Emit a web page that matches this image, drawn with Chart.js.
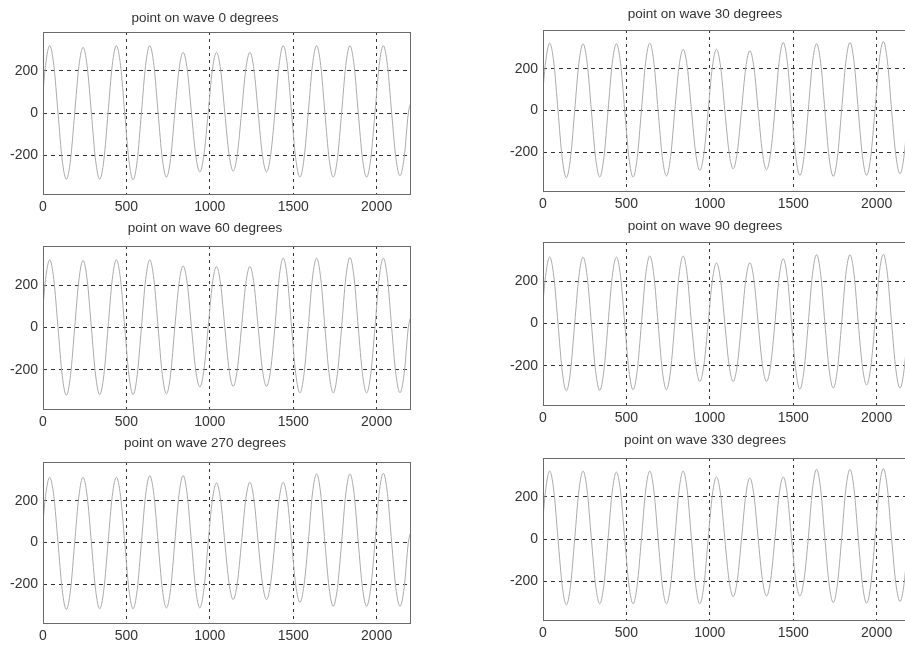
<!DOCTYPE html>
<html>
<head>
<meta charset="utf-8">
<title>point on wave</title>
<script src="https://cdn.jsdelivr.net/npm/chart.js@4.4.1/dist/chart.umd.min.js"></script>
<style>
  html, body { margin: 0; padding: 0; background: #fff; }
  body { width: 905px; height: 646px; overflow: hidden; position: relative; }
  canvas { position: absolute; }
</style>
</head>
<body>
<canvas id="p0"></canvas>
<canvas id="p30"></canvas>
<canvas id="p60"></canvas>
<canvas id="p90"></canvas>
<canvas id="p270"></canvas>
<canvas id="p330"></canvas>
<script>
// Sample number of every plotted point (shared x values, 200 samples per cycle)
const sampleIdx = [0,
  15, 40, 65, 90, 115, 140, 165, 190,
  215, 240, 265, 290, 315, 340, 365, 390,
  415, 440, 465, 490, 515, 540, 565, 590,
  615, 640, 665, 690, 715, 740, 765, 790,
  815, 840, 865, 890, 915, 940, 965, 990,
  1015, 1040, 1065, 1090, 1115, 1140, 1165, 1190,
  1215, 1240, 1265, 1290, 1315, 1340, 1365, 1390,
  1415, 1440, 1465, 1490, 1515, 1540, 1565, 1590,
  1615, 1640, 1665, 1690, 1715, 1740, 1765, 1790,
  1815, 1840, 1865, 1890, 1915, 1940, 1965, 1990,
  2015, 2040, 2065, 2090, 2115, 2140, 2165, 2190,
  2200];

// Waveform values
const wave0 = [100,
  226, 320, 226, 0, -223, -315, -223, 0,
  221, 312, 221, 0, -223, -315, -223, 0,
  226, 320, 226, 0, -225, -318, -225, 0,
  226, 320, 226, 0, -216, -305, -216, 0,
  204, 288, 204, 0, -198, -280, -198, 0,
  204, 288, 204, 0, -195, -276, -195, 0,
  204, 288, 204, 0, -198, -280, -198, 0,
  226, 320, 226, 0, -216, -305, -216, 0,
  226, 320, 226, 0, -216, -305, -216, 0,
  226, 320, 226, 0, -216, -305, -216, 0,
  226, 320, 226, 0, -211, -298, -211, 0,
  40];

const wave30 = [100,
  228, 322, 228, 0, -227, -321, -227, 0,
  226, 319, 226, 0, -225, -318, -225, 0,
  226, 319, 226, 0, -225, -318, -225, 0,
  228, 322, 228, 0, -221, -313, -221, 0,
  207, 293, 207, 0, -203, -287, -203, 0,
  207, 293, 207, 0, -197, -279, -197, 0,
  202, 286, 202, 0, -200, -283, -200, 0,
  230, 325, 230, 0, -219, -310, -219, 0,
  226, 319, 226, 0, -223, -315, -223, 0,
  230, 325, 230, 0, -219, -310, -219, 0,
  233, 330, 233, 0, -214, -302, -214, 0,
  40];

const wave60 = [100,
  226, 320, 226, 0, -226, -320, -226, 0,
  224, 317, 224, 0, -224, -317, -224, 0,
  226, 320, 226, 0, -224, -317, -224, 0,
  226, 320, 226, 0, -221, -313, -221, 0,
  206, 291, 206, 0, -199, -281, -199, 0,
  204, 288, 204, 0, -197, -278, -197, 0,
  204, 288, 204, 0, -197, -278, -197, 0,
  232, 328, 232, 0, -218, -309, -218, 0,
  232, 328, 232, 0, -218, -309, -218, 0,
  234, 331, 234, 0, -218, -309, -218, 0,
  232, 328, 232, 0, -218, -308, -218, 0,
  40];

const wave90 = [100,
  222, 314, 222, 0, -225, -318, -225, 0,
  222, 314, 222, 0, -223, -316, -223, 0,
  222, 314, 222, 0, -221, -313, -221, 0,
  226, 319, 226, 0, -221, -313, -221, 0,
  226, 319, 226, 0, -194, -274, -194, 0,
  202, 286, 202, 0, -194, -274, -194, 0,
  203, 287, 203, 0, -194, -274, -194, 0,
  216, 306, 216, 0, -219, -310, -219, 0,
  230, 325, 230, 0, -216, -305, -216, 0,
  230, 325, 230, 0, -205, -290, -205, 0,
  231, 327, 231, 0, -216, -305, -216, 0,
  40];

const wave270 = [100,
  221, 312, 221, 0, -226, -320, -226, 0,
  221, 312, 221, 0, -224, -317, -224, 0,
  221, 312, 221, 0, -224, -317, -224, 0,
  226, 320, 226, 0, -221, -313, -221, 0,
  226, 320, 226, 0, -221, -313, -221, 0,
  202, 285, 202, 0, -193, -273, -193, 0,
  204, 288, 204, 0, -193, -273, -193, 0,
  204, 288, 204, 0, -202, -286, -202, 0,
  232, 328, 232, 0, -216, -305, -216, 0,
  232, 328, 232, 0, -216, -305, -216, 0,
  234, 331, 234, 0, -216, -305, -216, 0,
  40];

const wave330 = [100,
  228, 323, 228, 0, -221, -313, -221, 0,
  228, 323, 228, 0, -218, -308, -218, 0,
  225, 318, 225, 0, -218, -308, -218, 0,
  228, 323, 228, 0, -218, -308, -218, 0,
  228, 323, 228, 0, -218, -308, -218, 0,
  209, 295, 209, 0, -194, -274, -194, 0,
  205, 290, 205, 0, -192, -271, -192, 0,
  209, 295, 209, 0, -192, -271, -192, 0,
  234, 331, 234, 0, -214, -302, -214, 0,
  234, 331, 234, 0, -216, -305, -216, 0,
  237, 335, 237, 0, -210, -297, -210, 0,
  40];

const xTicks = [0, 500, 1000, 1500, 2000];
const yTicks = [-200, 0, 200];
const angles = [0, 30, 60, 90, 270, 330];

// Page layout: plot box edges and title middle, in page pixels
const panels = [
  { id: 'p0',   wave: wave0,   left: 43,  top: 32,  bottom: 194, titleMid: 18 },
  { id: 'p30',  wave: wave30,  left: 543, top: 30,  bottom: 191, titleMid: 14 },
  { id: 'p60',  wave: wave60,  left: 43,  top: 246, bottom: 409, titleMid: 228 },
  { id: 'p90',  wave: wave90,  left: 543, top: 242, bottom: 405, titleMid: 226 },
  { id: 'p270', wave: wave270, left: 43,  top: 462, bottom: 623, titleMid: 443 },
  { id: 'p330', wave: wave330, left: 543, top: 458, bottom: 620, titleMid: 440 }
];

const Y_AXIS_W = 43;
const X_AXIS_H = 23;
const PLOT_W = 367;
const TITLE_SIZE = 13.5;
const TITLE_LH = TITLE_SIZE * 1.2;

Chart.defaults.font.family = "'Liberation Sans', Arial, Helvetica, sans-serif";
Chart.defaults.color = '#333';

// Solid frame around the plot area (MATLAB style box)
const boxPlugin = {
  id: 'box',
  afterDraw(chart) {
    const a = chart.chartArea;
    const ctx = chart.ctx;
    ctx.save();
    ctx.strokeStyle = '#6a6a6a';
    ctx.lineWidth = 1;
    ctx.strokeRect(Math.round(a.left) + 0.5, Math.round(a.top) + 0.5,
      Math.round(a.right - a.left), Math.round(a.bottom - a.top));
    ctx.restore();
  }
};

function drawPanel(p, i) {
  const canvas = document.getElementById(p.id);
  const canvasTop = Math.round(p.titleMid - TITLE_LH / 2);
  canvas.width = Y_AXIS_W + PLOT_W + 10;
  canvas.height = p.bottom + X_AXIS_H - canvasTop;
  canvas.style.left = (p.left - Y_AXIS_W) + 'px';
  canvas.style.top = canvasTop + 'px';

  const points = sampleIdx.map((x, k) => ({ x: x, y: p.wave[k] }));

  new Chart(canvas.getContext('2d'), {
    type: 'line',
    data: {
      datasets: [{
        data: points,
        borderColor: '#ababab',
        borderWidth: 1,
        pointRadius: 0,
        cubicInterpolationMode: 'monotone',
        fill: false
      }]
    },
    options: {
      responsive: false,
      animation: false,
      layout: { padding: { left: 0, right: 10, top: 0, bottom: 0 } },
      plugins: {
        legend: { display: false },
        tooltip: { enabled: false },
        title: {
          display: true,
          text: 'point on wave ' + angles[i] + ' degrees',
          color: '#333',
          font: { size: TITLE_SIZE, weight: 'normal', lineHeight: 1.2 },
          padding: { top: 0, bottom: p.top - canvasTop - TITLE_LH }
        }
      },
      scales: {
        x: {
          type: 'linear',
          min: 0,
          max: 2200,
          afterBuildTicks: s => { s.ticks = xTicks.map(v => ({ value: v })); },
          afterFit: s => { s.height = X_AXIS_H; },
          border: { display: false, dash: [3, 4] },
          grid: { color: '#333', lineWidth: 1, drawTicks: false },
          ticks: { padding: 5, font: { size: 14 }, color: '#333', maxRotation: 0, callback: v => String(v) }
        },
        y: {
          min: -385,
          max: 385,
          afterBuildTicks: s => { s.ticks = yTicks.map(v => ({ value: v })); },
          afterFit: s => { s.width = Y_AXIS_W; },
          border: { display: false, dash: [4, 4] },
          grid: { color: '#333', lineWidth: 1, drawTicks: false },
          ticks: { padding: 5, font: { size: 14 }, color: '#333', callback: v => String(v) }
        }
      }
    },
    plugins: [boxPlugin]
  });
}

panels.forEach(drawPanel);
</script>
</body>
</html>
